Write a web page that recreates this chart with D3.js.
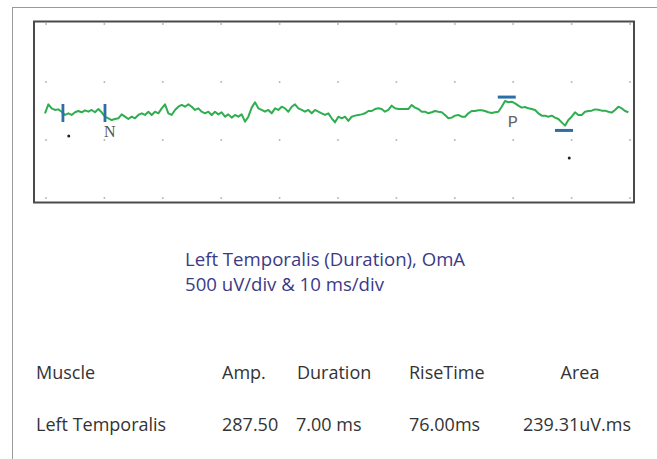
<!DOCTYPE html>
<html>
<head>
<meta charset="utf-8">
<script src="https://cdn.jsdelivr.net/npm/d3@7"></script>
<style>
  html, body { margin: 0; padding: 0; background: #fff; }
  svg { display: block; }
</style>
</head>
<body>
<svg id="chart" width="657" height="459"></svg>
<script>
// ---------------- data ----------------
const sampleMs = 0.5708;      // sampling interval of the trace (ms)
const traceStartMs = -0.17;
// EMG trace (uV)
const traceUv = [
  -20,57,23,9,14,-6,-34,-20,-34,-11,
  0,-11,6,-6,9,-11,17,-11,-49,-63,
  -78,-69,-63,-29,-49,-69,-49,-63,-34,-20,
  -34,-6,-34,-6,-20,23,57,-20,-34,9,
  37,52,37,57,37,9,23,-6,-20,-6,
  -34,-6,-29,-11,-49,-29,-57,-34,-49,-29,
  -92,-49,29,75,23,9,-6,9,-20,23,
  9,37,23,-6,37,57,23,9,-6,9,
  -20,9,-6,-20,-34,-20,
  -63,-98,-49,-63,-49,-86,-49,-40,-34,-29,
  -20,0,0,17,23,17,-6,9,46,23,
  17,17,17,17,52,29,17,-6,-6,-20,
  -11,0,-6,-11,-34,-63,-57,-40,-34,-49,
  -49,-20,0,0,6,6,0,-11,-17,-11,
  -6,37,86,75,80,66,46,29,34,23,
  17,9,-20,-40,-40,-49,-40,-57,-69,-98,
  -126,-78,-49,-11,-34,-34,-6,0,3,14,
  11,3,3,-6,-14,9,37,23,0,-11
];
const xTicksMs = [0,10,20,30,40,50,60,70,80,90,100];
const yTicksUv = [-750,-250,250,750];
const onsetMarkers = [ {label:"", t:2.9}, {label:"N", t:10.1} ];
const peakMarker   = {label:"P", t:78.9, uv:120};
const troughMarker = {label:"", t:88.7, uv:-167.5};
const cursorDots = [ {t:3.9, uv:-216}, {t:89.6, uv:-405} ];

const titleLines = ["Left Temporalis (Duration), OmA", "500 uV/div & 10 ms/div"];
const tableHeaders = ["Muscle", "Amp.", "Duration", "RiseTime", "Area"];
const tableRow = ["Left Temporalis", "287.50", "7.00 ms", "76.00ms", "239.31uV.ms"];

// ---------------- drawing ----------------
const svg = d3.select("#chart");

// outer page border
svg.append("rect").attr("x",12.5).attr("y",7.5).attr("width",700).attr("height",500)
  .attr("fill","none").attr("stroke","#9a9a9a").attr("stroke-width",1);

const x = d3.scaleLinear().domain([0,100]).range([46,630]);
const y = d3.scaleLinear().domain([-750,750]).range([198,24]);

// plot frame
svg.append("rect").attr("x",34).attr("y",21.5).attr("width",600).attr("height",181)
  .attr("fill","#fff").attr("stroke","#4a4a4a").attr("stroke-width",2);

// grid dots
const grid = [];
xTicksMs.forEach(t => yTicksUv.forEach(v => grid.push({t, v})));
svg.append("g").selectAll("circle").data(grid).join("circle")
  .attr("cx", d => x(d.t)).attr("cy", d => y(d.v)).attr("r", 1)
  .attr("fill", "#b8b8b8");

// trace
const line = d3.line()
  .x((d,i) => x(traceStartMs + i*sampleMs))
  .y(d => y(d));
svg.append("path").datum(traceUv).attr("d", line)
  .attr("fill","none").attr("stroke","#2fae50").attr("stroke-width",2)
  .attr("stroke-linejoin","round");

const blue = "#2e6ea6";
// onset markers (vertical ticks)
svg.append("g").selectAll("line").data(onsetMarkers).join("line")
  .attr("x1", d => x(d.t)).attr("x2", d => x(d.t))
  .attr("y1", y(0) - 7).attr("y2", y(0) + 11)
  .attr("stroke", blue).attr("stroke-width", 2.8);

// peak / trough bars
[peakMarker, troughMarker].forEach(m => {
  svg.append("line")
    .attr("x1", x(m.t) - 9).attr("x2", x(m.t) + 9)
    .attr("y1", y(m.uv)).attr("y2", y(m.uv))
    .attr("stroke", blue).attr("stroke-width", 3);
});

// labels
svg.append("g").selectAll("text").data(onsetMarkers.filter(d => d.label)).join("text")
  .attr("x", d => x(d.t) - 1).attr("y", y(0) + 26)
  .attr("font-family", "Liberation Serif").attr("font-size", 16)
  .attr("fill", "#555").text(d => d.label);
svg.append("text").attr("x", x(peakMarker.t) + 1).attr("y", y(0) + 16)
  .attr("font-family", "Liberation Mono").attr("font-size", 17)
  .attr("fill", "#666").text(peakMarker.label);

// cursor dots
svg.append("g").selectAll("circle").data(cursorDots).join("circle")
  .attr("cx", d => x(d.t)).attr("cy", d => y(d.uv)).attr("r", 1.5)
  .attr("fill", "#222");

// title
svg.append("g").selectAll("text").data(titleLines).join("text")
  .attr("x", 185).attr("y", (d,i) => 266 + i*25)
  .attr("font-family", "Open Sans").attr("font-size", 18.6)
  .attr("fill", "#3a3a86").text(d => d);

// table
const colX = [36, 222, 297, 409, 580];
const colAnchor = ["start","start","start","start","middle"];
const rowX = [36, 222, 296, 409, 577];
const fs = 18;
svg.append("g").selectAll("text").data(tableHeaders).join("text")
  .attr("x", (d,i) => colX[i]).attr("y", 379)
  .attr("text-anchor", (d,i) => colAnchor[i])
  .attr("font-family", "Open Sans").attr("font-size", fs)
  .attr("fill", "#333").text(d => d);
svg.append("g").selectAll("text").data(tableRow).join("text")
  .attr("x", (d,i) => rowX[i]).attr("y", 431)
  .attr("text-anchor", (d,i) => colAnchor[i])
  .attr("font-family", "Open Sans").attr("font-size", fs)
  .attr("fill", "#333").text(d => d);
</script>
</body>
</html>
